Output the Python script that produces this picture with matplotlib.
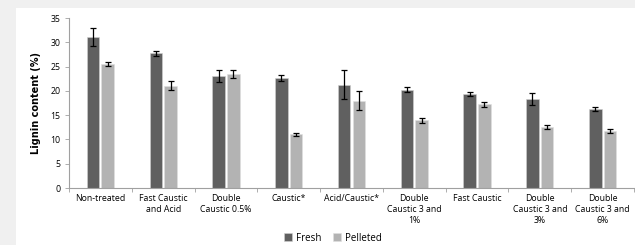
import numpy as np
import matplotlib.pyplot as plt
from matplotlib.patches import Rectangle

categories = ["Non-treated", "Fast Caustic\nand Acid", "Double\nCaustic 0.5%", "Caustic*",
              "Acid/Caustic*", "Double\nCaustic 3 and\n1%", "Fast Caustic",
              "Double\nCaustic 3 and\n3%", "Double\nCaustic 3 and\n6%"]
fresh = [31.1, 27.7, 23.0, 22.7, 21.3, 20.2, 19.4, 18.4, 16.3]
fresh_err = [1.85, 0.6, 1.25, 0.6, 2.9, 0.5, 0.4, 1.25, 0.45]
pelleted = [25.6, 21.1, 23.5, 11.1, 18.0, 13.9, 17.2, 12.6, 11.7]
pelleted_err = [0.4, 0.9, 0.85, 0.3, 1.9, 0.45, 0.45, 0.4, 0.35]

plt.rcParams['font.family'] = ['Open Sans', 'DejaVu Sans']

fig = plt.figure(figsize=(6.35, 2.45), dpi=100, facecolor='#f0f0f0')
# white panel behind everything
fig.patches.append(Rectangle((16 / 635, 0), 1 - 16 / 635, 1 - 8 / 245,
                             transform=fig.transFigure, facecolor='white',
                             edgecolor='none', zorder=-10))

ax = fig.add_axes([69 / 635, 1 - 188 / 245, 565 / 635, 170 / 245])
ax.set_facecolor('none')

x = np.arange(len(categories))
w = 0.2
off = 0.117
ax.bar(x - off, fresh, w, color='#606060', edgecolor='#d0d0d0', linewidth=0.4,
       label='Fresh', yerr=fresh_err,
       error_kw=dict(ecolor='black', elinewidth=0.9, capsize=2.5, capthick=0.9))
ax.bar(x + off, pelleted, w, color='#b3b3b3', edgecolor='#e0e0e0', linewidth=0.4,
       label='Pelleted', yerr=pelleted_err,
       error_kw=dict(ecolor='black', elinewidth=0.9, capsize=2.5, capthick=0.9))

ax.set_xlim(-0.5, len(categories) - 0.5)
ax.set_ylim(0, 35)
ax.set_yticks(range(0, 36, 5))
ax.set_xticks(x)
ax.set_xticklabels(categories, fontsize=6.3, linespacing=1.35)
ax.set_xticks(np.arange(-0.5, len(categories), 1), minor=True)
ax.tick_params(axis='x', which='major', length=0, pad=4)
ax.tick_params(axis='x', which='minor', length=3, color='#a0a0a0', width=0.6)
ax.tick_params(axis='y', labelsize=6.3, length=3, color='#a0a0a0', width=0.6, pad=3)

for s in ['top', 'right']:
    ax.spines[s].set_visible(False)
for s in ['left', 'bottom']:
    ax.spines[s].set_color('#a0a0a0')
    ax.spines[s].set_linewidth(0.8)

fig.text(36 / 635, 1 - 103 / 245, 'Lignin content (%)', rotation=90, ha='center',
         va='center', fontsize=7, fontweight='bold', family=['Liberation Sans Narrow', 'DejaVu Sans'])

fig.legend(loc='center', bbox_to_anchor=(333 / 635, 1 - 238 / 245), ncol=2,
           frameon=False, fontsize=7, handlelength=0.8, handleheight=0.8,
           handletextpad=0.4, columnspacing=1.2)

fig.savefig('out.png', dpi=100, facecolor=fig.get_facecolor())
